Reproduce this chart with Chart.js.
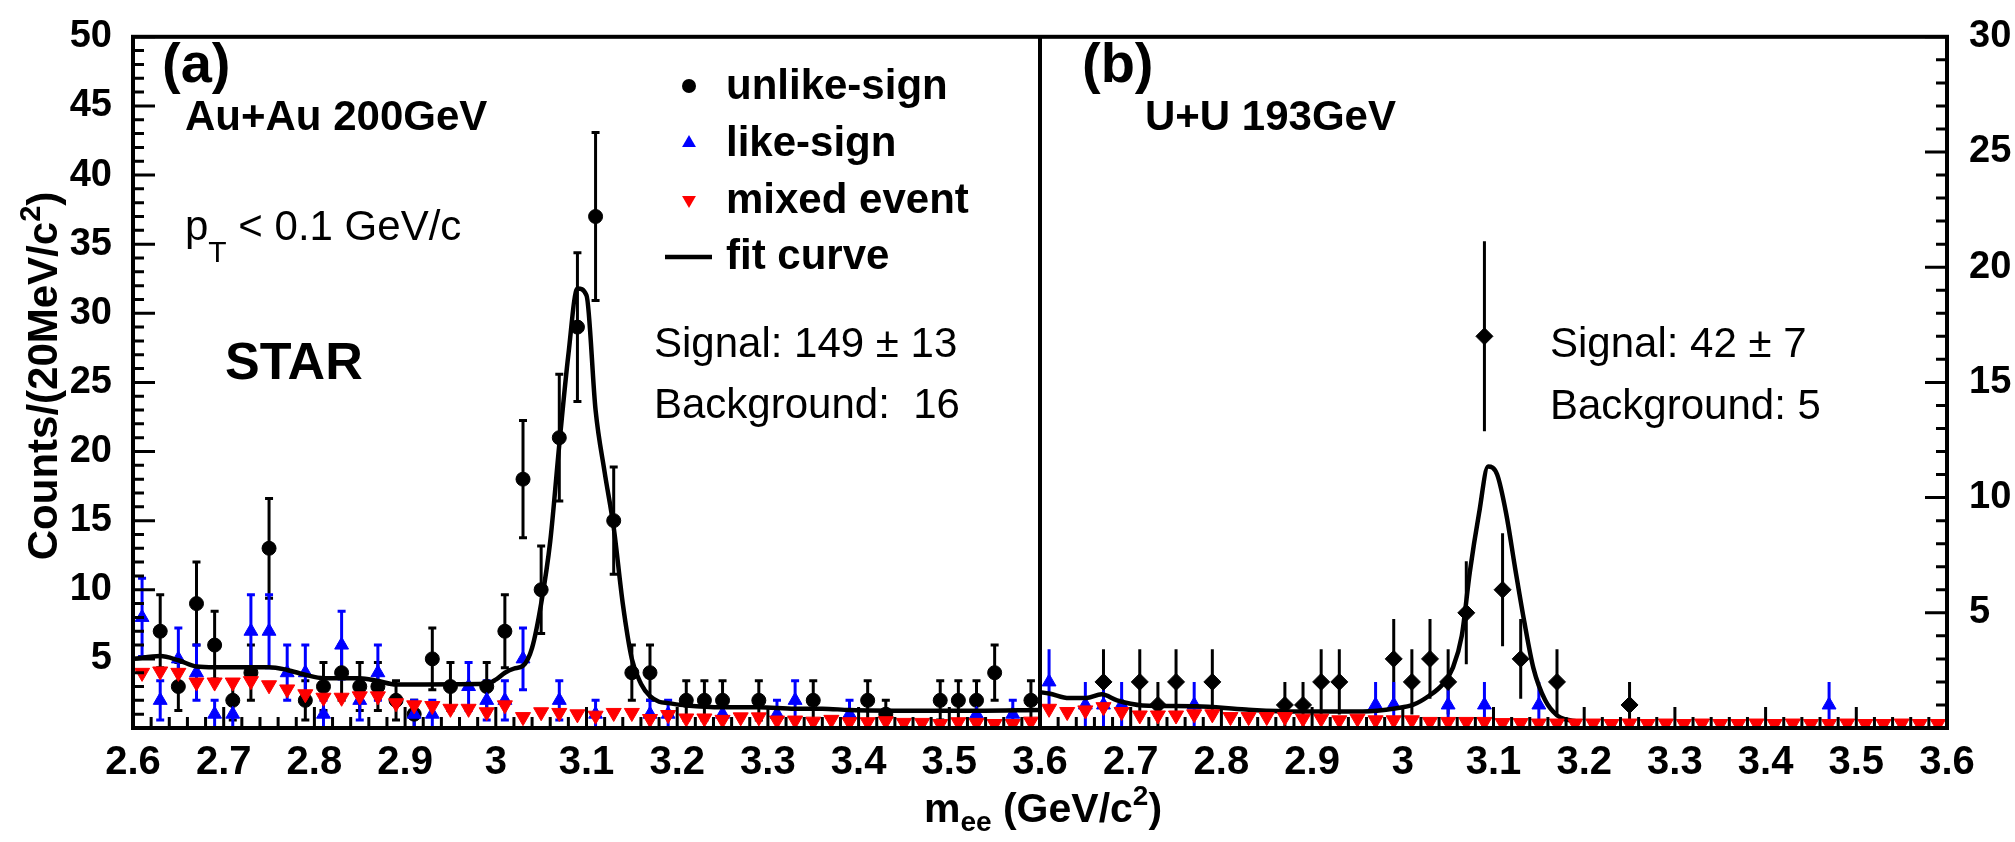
<!DOCTYPE html>
<html>
<head>
<meta charset="utf-8">
<title>Dielectron invariant mass near the J/psi</title>
<script src="https://cdn.jsdelivr.net/npm/chart.js@4.4.1/dist/chart.umd.min.js"></script>
<style>
  html, body { margin: 0; padding: 0; background: #fff; }
  #wrap { width: 2015px; height: 842px; position: relative; }
</style>
</head>
<body>
<div id="wrap"><canvas id="massChart"></canvas></div>
<script>
// bin centres (20 MeV bins)
const massBins = [
  2.61, 2.63, 2.65, 2.67, 2.69, 2.71, 2.73, 2.75, 2.77, 2.79,
  2.81, 2.83, 2.85, 2.87, 2.89, 2.91, 2.93, 2.95, 2.97, 2.99,
  3.01, 3.03, 3.05, 3.07, 3.09, 3.11, 3.13, 3.15, 3.17, 3.19,
  3.21, 3.23, 3.25, 3.27, 3.29, 3.31, 3.33, 3.35, 3.37, 3.39,
  3.41, 3.43, 3.45, 3.47, 3.49, 3.51, 3.53, 3.55, 3.57, 3.59
];

// (a) Au+Au 200 GeV
const auauUnlike = [
  null, 7, 3, 9, 6, 2, 4, 13, null, 2,
  3, 4, 3, 3, 2, 1, 5, 3, null, 3,
  7, 18, 10, 21, 29, 37, 15, 4, 4, null,
  2, 2, 2, null, 2, null, null, 2, null, null,
  2, 1, null, null, 2, 2, 2, 4, null, 2
];
const auauLike = [
  8, 2, 5, 4, 1, 1, 7, 7, 4, 4,
  1, 6, 2, 4, null, 1, 1, null, 3, 2,
  2, 5, null, 2, null, 1, null, null, 1, 1,
  null, null, 1, null, null, 1, 2, null, null, 1,
  null, null, null, null, null, null, 1, null, 1, null
];
const auauMixed = [
  4.0, 4.1, 4.0, 3.3, 3.3, 3.3, 3.4, 3.1, 2.8, 2.45,
  2.2, 2.2, 2.3, 2.3, 1.8, 1.65, 1.6, 1.4, 1.4, 1.15,
  1.65, 0.8, 1.15, 1.1, 1.0, 0.9, 1.1, 1.1, 0.66, 0.95,
  0.7, 0.7, 0.6, 0.78, 0.78, 0.55, 0.55, 0.47, 0.6, 0.43,
  0.43, 0.5, 0.38, 0.38, 0.3, 0.43, 0.38, 0.3, 0.3, 0.47
];
const auauFitMass = [
  2.600, 2.630, 2.650, 2.670, 2.690, 2.750, 2.770, 2.790, 2.810, 2.850,
  2.870, 2.890, 2.990, 3.000, 3.010, 3.020, 3.030, 3.040, 3.050, 3.060,
  3.070, 3.080, 3.090, 3.100, 3.110, 3.120, 3.130, 3.140, 3.150, 3.160,
  3.170, 3.180, 3.190, 3.210, 3.250, 3.290, 3.330, 3.360, 3.390, 3.460,
  3.530, 3.600
];
const auauFit = [
  5.0, 5.2, 4.9, 4.45, 4.4, 4.4, 4.2, 3.85, 3.6, 3.6,
  3.4, 3.15, 3.2, 3.5, 4.0, 4.3, 4.5, 5.8, 9.0, 13.5,
  20.5, 27.0, 31.8, 31.3, 23.0, 18.5, 14.5, 9.0, 5.0, 3.2,
  2.3, 1.9, 1.8, 1.63, 1.5, 1.5, 1.4, 1.4, 1.3, 1.25,
  1.25, 1.3
];

// (b) U+U 193 GeV
const uuUnlike = [
  null, null, null, 2, null, 2, 1, 2, null, 2,
  null, null, null, 1, 1, 2, 2, null, null, 3,
  2, 3, 2, 5, 17, 6, 3, null, 2, null,
  null, null, 1, null, null, null, null, null, null, null,
  null, null, null, null, null, null, null, null, null, null
];
const uuLike = [
  2, null, 1, 1, 1, null, null, null, 1, null,
  null, null, null, null, null, null, null, null, 1, 1,
  null, null, 1, null, 1, null, null, 1, null, null,
  null, null, null, null, null, null, null, null, null, null,
  null, null, null, 1, null, null, null, null, null, null
];
const uuMixed = [
  0.84, 0.7, 0.77, 0.91, 0.7, 0.55, 0.55, 0.55, 0.6, 0.6,
  0.48, 0.48, 0.48, 0.48, 0.41, 0.41, 0.34, 0.41, 0.34, 0.34,
  0.34, 0.27, 0.27, 0.27, 0.27, 0.22, 0.22, 0.2, 0.2, 0.2,
  0.2, 0.18, 0.2, 0.18, 0.2, 0.18, 0.2, 0.18, 0.18, 0.2,
  0.18, 0.2, 0.18, 0.18, 0.2, 0.18, 0.18, 0.2, 0.18, 0.18
];
const uuFitMass = [
  2.600, 2.610, 2.632, 2.651, 2.668, 2.685, 2.700, 2.713, 2.772, 2.827,
  2.882, 2.956, 2.993, 3.011, 3.029, 3.044, 3.055, 3.065, 3.074, 3.084,
  3.094, 3.104, 3.114, 3.124, 3.134, 3.144, 3.157, 3.170, 3.180, 3.190
];
const uuFit = [
  1.55, 1.5, 1.3, 1.3, 1.46, 1.2, 1.05, 0.98, 0.94, 0.8,
  0.72, 0.72, 0.86, 1.0, 1.4, 1.9, 2.6, 4.0, 6.8, 9.3,
  11.35, 11.0, 9.3, 6.9, 4.6, 2.6, 1.2, 0.55, 0.37, 0.3
];

// panel (b) sits one unit to the right on the shared mass axis
const PANEL_SHIFT = 1.0;
const PANEL_EDGE = 3.6;

const FONT = '"Liberation Sans", Arial, Helvetica, sans-serif';
const BLUE = 'rgb(0,0,255)';
const RED = 'rgb(255,0,0)';

function font(size, bold) {
  return (bold ? 'bold ' : '') + size + 'px ' + FONT;
}

function toPoints(xs, ys, shift) {
  const pts = [];
  xs.forEach((x, i) => {
    if (ys[i] !== null) pts.push({ x: x + shift, y: ys[i] });
  });
  return pts;
}

// text made of pieces: [string, size, bold, dy]
function drawPieces(ctx, pieces, x, y, align) {
  let total = 0;
  pieces.forEach(p => {
    ctx.font = font(p[1], p[2]);
    p.w = ctx.measureText(p[0]).width;
    total += p.w;
  });
  let cx = align === 'center' ? x - total / 2 : x;
  ctx.textAlign = 'left';
  ctx.textBaseline = 'alphabetic';
  pieces.forEach(p => {
    ctx.font = font(p[1], p[2]);
    ctx.fillText(p[0], cx, y + (p[3] || 0));
    cx += p.w;
  });
}

function legendMarker(ctx, style, x, y, r, color) {
  ctx.fillStyle = color;
  ctx.beginPath();
  if (style === 'circle') {
    ctx.arc(x, y, r, 0, Math.PI * 2);
  } else if (style === 'up') {
    ctx.moveTo(x, y - r);
    ctx.lineTo(x + r * 0.866, y + r / 2);
    ctx.lineTo(x - r * 0.866, y + r / 2);
    ctx.closePath();
  } else {
    ctx.moveTo(x, y + r);
    ctx.lineTo(x + r * 0.866, y - r / 2);
    ctx.lineTo(x - r * 0.866, y - r / 2);
    ctx.closePath();
  }
  ctx.fill();
}

// Poisson error bars, drawn under the markers
const errorBarPlugin = {
  id: 'errorBars',
  beforeDatasetsDraw(chart) {
    const { ctx, chartArea: a } = chart;
    ctx.save();
    ctx.beginPath();
    ctx.rect(a.left, a.top, a.right - a.left, a.bottom - a.top);
    ctx.clip();
    chart.data.datasets.forEach((ds, i) => {
      if (!ds.errorBars) return;
      const meta = chart.getDatasetMeta(i);
      const xs = chart.scales[meta.xAxisID];
      const ys = chart.scales[meta.yAxisID];
      const cap = ds.errorBars.cap;
      ctx.strokeStyle = ds.borderColor;
      ctx.lineWidth = ds.errorBars.width;
      ds.data.forEach(p => {
        const err = Math.sqrt(p.y);
        const px = xs.getPixelForValue(p.x);
        const top = ys.getPixelForValue(p.y + err);
        const bot = ys.getPixelForValue(Math.max(0, p.y - err));
        ctx.beginPath();
        ctx.moveTo(px, top);
        ctx.lineTo(px, bot);
        if (cap) {
          ctx.moveTo(px - cap, top);
          ctx.lineTo(px + cap, top);
          ctx.moveTo(px - cap, bot);
          ctx.lineTo(px + cap, bot);
        }
        ctx.stroke();
      });
    });
    ctx.restore();
  }
};

// frame, inward ticks, divider between the two panels
const framePlugin = {
  id: 'frame',
  afterDatasetsDraw(chart) {
    const { ctx, chartArea: a, scales } = chart;
    ctx.save();
    ctx.strokeStyle = '#000';
    ctx.lineWidth = 3;
    ctx.beginPath();

    const xt = scales.x.ticks.map(t => t.value);
    xt.forEach((v, i) => {
      const p = scales.x.getPixelForValue(v);
      ctx.moveTo(p, a.bottom);
      ctx.lineTo(p, a.bottom - 21);
      if (i < xt.length - 1) {
        for (let k = 1; k < 5; k++) {
          const q = scales.x.getPixelForValue(v + (xt[i + 1] - v) * k / 5);
          ctx.moveTo(q, a.bottom);
          ctx.lineTo(q, a.bottom - 11);
        }
      }
    });

    [['y', a.left, 1], ['y2', a.right, -1]].forEach(([id, x0, dir]) => {
      const sc = scales[id];
      const yt = sc.ticks.map(t => t.value);
      yt.forEach((v, i) => {
        const p = sc.getPixelForValue(v);
        ctx.moveTo(x0, p);
        ctx.lineTo(x0 + dir * 22, p);
        if (i < yt.length - 1) {
          for (let k = 1; k < 5; k++) {
            const q = sc.getPixelForValue(v + (yt[i + 1] - v) * k / 5);
            ctx.moveTo(x0, q);
            ctx.lineTo(x0 + dir * 11, q);
          }
        }
      });
    });
    ctx.stroke();

    ctx.lineWidth = 4;
    ctx.strokeRect(a.left, a.top, a.right - a.left, a.bottom - a.top);
    const mid = scales.x.getPixelForValue(PANEL_EDGE);
    ctx.beginPath();
    ctx.moveTo(mid, a.top);
    ctx.lineTo(mid, a.bottom);
    ctx.stroke();
    ctx.restore();
  }
};

// titles, panel labels, legend and fit results
const labelPlugin = {
  id: 'labels',
  afterDraw(chart) {
    const ctx = chart.ctx;
    ctx.save();
    ctx.fillStyle = '#000';

    // axis titles
    drawPieces(ctx, [['m', 41, true], ['ee', 28, true, 9], [' (GeV/c', 41, true], ['2', 28, true, -17], [')', 41, true]], 1043, 822, 'center');
    ctx.save();
    ctx.translate(57, 376);
    ctx.rotate(-Math.PI / 2);
    drawPieces(ctx, [['Counts/(20MeV/c', 42, true], ['2', 29, true, -17], [')', 42, true]], 0, 0, 'center');
    ctx.restore();

    // panel (a)
    drawPieces(ctx, [['(a)', 56, true]], 162, 82, 'left');
    drawPieces(ctx, [['Au+Au 200GeV', 42, true]], 185, 130, 'left');
    drawPieces(ctx, [['p', 42, false], ['T', 30, false, 22], [' < 0.1 GeV/c', 42, false]], 185, 240, 'left');
    drawPieces(ctx, [['STAR', 52, true]], 225, 379, 'left');
    drawPieces(ctx, [['Signal: 149 \u00B1 13', 42, false]], 654, 357, 'left');
    drawPieces(ctx, [['Background:  16', 42, false]], 654, 418, 'left');

    // legend
    legendMarker(ctx, 'circle', 689, 86, 7, '#000');
    legendMarker(ctx, 'up', 689, 143, 8, BLUE);
    legendMarker(ctx, 'down', 689, 200, 8, RED);
    ctx.strokeStyle = '#000';
    ctx.lineWidth = 4.5;
    ctx.beginPath();
    ctx.moveTo(665, 257);
    ctx.lineTo(712, 257);
    ctx.stroke();
    ctx.fillStyle = '#000';
    drawPieces(ctx, [['unlike-sign', 42, true]], 726, 99, 'left');
    drawPieces(ctx, [['like-sign', 42, true]], 726, 156, 'left');
    drawPieces(ctx, [['mixed event', 42, true]], 726, 213, 'left');
    drawPieces(ctx, [['fit curve', 42, true]], 726, 269, 'left');

    // panel (b)
    drawPieces(ctx, [['(b)', 56, true]], 1082, 82, 'left');
    drawPieces(ctx, [['U+U 193GeV', 42, true]], 1145, 130, 'left');
    drawPieces(ctx, [['Signal: 42 \u00B1 7', 42, false]], 1550, 357, 'left');
    drawPieces(ctx, [['Background: 5', 42, false]], 1550, 419, 'left');
    ctx.restore();
  }
};

const tickFont = { family: FONT, weight: 'bold', size: 40 };
const yTickFont = { family: FONT, weight: 'bold', size: 38 };

const datasets = [
  {
    label: 'unlike-sign',
    data: toPoints(massBins, auauUnlike, 0),
    yAxisID: 'y',
    pointStyle: 'circle', pointRadius: 7,
    backgroundColor: '#000', borderColor: '#000', borderWidth: 1,
    errorBars: { width: 3, cap: 4 },
    order: 4
  },
  {
    label: 'like-sign',
    data: toPoints(massBins, auauLike, 0),
    yAxisID: 'y',
    pointStyle: 'triangle', pointRadius: 8,
    backgroundColor: BLUE, borderColor: BLUE, borderWidth: 1,
    errorBars: { width: 3, cap: 4 },
    order: 3
  },
  {
    label: 'mixed event',
    data: toPoints(massBins, auauMixed, 0),
    yAxisID: 'y',
    pointStyle: 'triangle', pointRotation: 180, pointRadius: 8.7,
    backgroundColor: RED, borderColor: RED, borderWidth: 1,
    order: 1
  },
  {
    label: 'fit curve',
    data: toPoints(auauFitMass, auauFit, 0),
    yAxisID: 'y',
    showLine: true, pointRadius: 0,
    borderColor: '#000', borderWidth: 4.5,
    cubicInterpolationMode: 'monotone',
    order: 2
  },
  {
    label: 'unlike-sign U+U',
    data: toPoints(massBins, uuUnlike, PANEL_SHIFT),
    yAxisID: 'y2',
    pointStyle: 'rectRot', pointRadius: 8.5,
    backgroundColor: '#000', borderColor: '#000', borderWidth: 1,
    errorBars: { width: 3, cap: 0 },
    order: 4
  },
  {
    label: 'like-sign U+U',
    data: toPoints(massBins, uuLike, PANEL_SHIFT),
    yAxisID: 'y2',
    pointStyle: 'triangle', pointRadius: 8,
    backgroundColor: BLUE, borderColor: BLUE, borderWidth: 1,
    errorBars: { width: 3, cap: 0 },
    order: 3
  },
  {
    label: 'mixed event U+U',
    data: toPoints(massBins, uuMixed, PANEL_SHIFT),
    yAxisID: 'y2',
    pointStyle: 'triangle', pointRotation: 180, pointRadius: 8.7,
    backgroundColor: RED, borderColor: RED, borderWidth: 1,
    order: 1
  },
  {
    label: 'fit curve U+U',
    data: toPoints(uuFitMass, uuFit, PANEL_SHIFT),
    yAxisID: 'y2',
    showLine: true, pointRadius: 0,
    borderColor: '#000', borderWidth: 4.5,
    cubicInterpolationMode: 'monotone',
    order: 2
  }
];

const chart = new Chart(document.getElementById('massChart'), {
  type: 'scatter',
  data: { datasets: datasets },
  options: {
    responsive: true,
    maintainAspectRatio: false,
    animation: false,
    layout: { padding: { top: 24, left: 0, right: 0, bottom: 0 } },
    plugins: {
      legend: { display: false },
      tooltip: { enabled: false }
    },
    scales: {
      x: {
        type: 'linear',
        min: 2.6,
        max: 2.6 + 2 * PANEL_SHIFT,
        afterFit: s => { s.height = 114; },
        grid: { display: false },
        border: { display: false },
        ticks: {
          stepSize: 0.1,
          autoSkip: false,
          maxRotation: 0,
          padding: 3,
          color: '#000',
          font: tickFont,
          callback: v => {
            const m = v > PANEL_EDGE + 1e-6 ? v - PANEL_SHIFT : v;
            return String(Math.round(m * 10) / 10);
          }
        }
      },
      y: {
        position: 'left',
        min: 0,
        max: 50,
        afterFit: s => { s.width = 133; },
        grid: { display: false },
        border: { display: false },
        ticks: {
          stepSize: 5,
          padding: 13,
          color: '#000',
          font: yTickFont,
          callback: v => (v === 0 ? '' : v)
        }
      },
      y2: {
        position: 'right',
        min: 0,
        max: 30,
        afterFit: s => { s.width = 68; },
        grid: { display: false },
        border: { display: false },
        ticks: {
          stepSize: 5,
          padding: 14,
          color: '#000',
          font: yTickFont,
          callback: v => (v === 0 ? '' : v)
        }
      }
    }
  },
  plugins: [errorBarPlugin, framePlugin, labelPlugin]
});
</script>
</body>
</html>
